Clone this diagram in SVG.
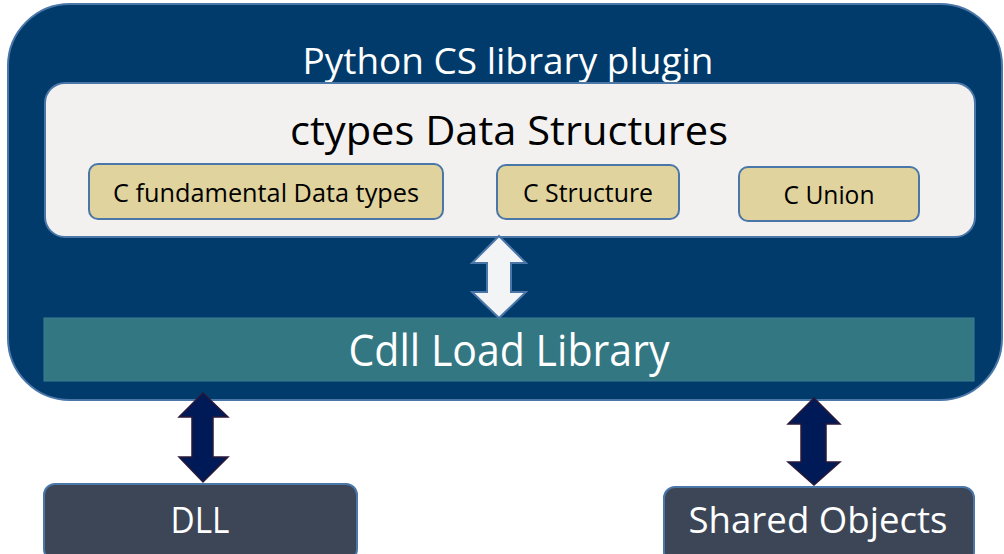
<svg xmlns="http://www.w3.org/2000/svg" width="1004" height="554" viewBox="0 0 1004 554">
  <style>
    .lbl { font-family: "Open Sans", "Liberation Sans", sans-serif; text-anchor: middle; }
    .white { fill: #ffffff; }
    .black { fill: #000000; }
    .type { fill: #e0d39d; stroke: #4a76a8; stroke-width: 2; }
    .ext { fill: #3c4657; stroke: #4a76a8; stroke-width: 2; }
    .darrow { fill: #001a57; stroke: #2b1838; stroke-width: 1.5; }
  </style>
  <rect width="1004" height="554" fill="#ffffff"/>

  <g id="plugin">
    <rect x="8" y="4" width="994" height="396" rx="62" ry="62" fill="#003b6b" stroke="#4a76a8" stroke-width="2"/>
    <text class="lbl white" x="508" y="74" font-size="36" textLength="411" lengthAdjust="spacingAndGlyphs">Python CS library plugin</text>
  </g>

  <g id="ctypes">
    <rect x="45" y="83" width="930" height="154" rx="20" ry="20" fill="#f2f1f0" stroke="#4a76a8" stroke-width="2"/>
    <text class="lbl black" x="509" y="145" font-size="40" textLength="438" lengthAdjust="spacingAndGlyphs">ctypes Data Structures</text>
  </g>

  <g id="fundamental">
    <rect class="type" x="89" y="164" width="354" height="55" rx="9" ry="9"/>
    <text class="lbl black" x="266" y="202" font-size="25" textLength="306" lengthAdjust="spacingAndGlyphs">C fundamental Data types</text>
  </g>

  <g id="structure">
    <rect class="type" x="497" y="165" width="182" height="54" rx="9" ry="9"/>
    <text class="lbl black" x="588" y="202" font-size="25" textLength="130" lengthAdjust="spacingAndGlyphs">C Structure</text>
  </g>

  <g id="union">
    <rect class="type" x="739" y="167" width="180" height="54" rx="9" ry="9"/>
    <text class="lbl black" x="829" y="204" font-size="25" textLength="91" lengthAdjust="spacingAndGlyphs">C Union</text>
  </g>

  <g id="cdll">
    <rect x="44" y="318" width="930" height="63" fill="#337783" stroke="#3f7f8f" stroke-width="1"/>
    <text class="lbl white" x="509" y="366" font-size="43" textLength="321" lengthAdjust="spacingAndGlyphs">Cdll Load Library</text>
  </g>

  <g id="dll">
    <rect class="ext" x="44" y="484" width="313" height="76" rx="11" ry="11"/>
    <text class="lbl white" x="200" y="533" font-size="36" textLength="59" lengthAdjust="spacingAndGlyphs">DLL</text>
  </g>

  <g id="shared">
    <rect class="ext" x="664" y="487" width="310" height="76" rx="11" ry="11"/>
    <text class="lbl white" x="818" y="533" font-size="36" textLength="259" lengthAdjust="spacingAndGlyphs">Shared Objects</text>
  </g>

  <g id="connectors">
    <!-- ctypes <-> Cdll -->
    <path d="M499,236 L526,263 L511,263 L511,292 L526,292 L499,318 L472,292 L487,292 L487,263 L472,263 Z" fill="#f2f4f6" stroke="#4a76a8" stroke-width="2" stroke-linejoin="miter"/>
    <!-- plugin <-> DLL -->
    <path class="darrow" d="M203,393 L228,417 L213,417 L213,457 L228,457 L203,482 L179,457 L192,457 L192,417 L179,417 Z"/>
    <!-- plugin <-> Shared Objects -->
    <path class="darrow" d="M814,398 L840,424 L826,424 L826,462 L840,462 L814,485 L788,462 L801,462 L801,424 L788,424 Z"/>
  </g>
</svg>
